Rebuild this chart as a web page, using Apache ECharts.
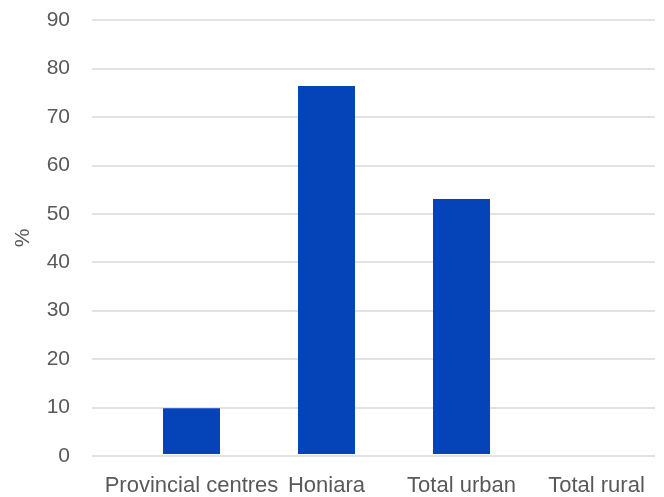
<!DOCTYPE html>
<html><head><meta charset="utf-8">
<script src="https://cdn.jsdelivr.net/npm/echarts@6/dist/echarts.min.js"></script>
<style>html,body{margin:0;padding:0;background:#fff}#c{width:664px;height:497px}</style>
</head><body><div id="c"></div>
<script>
const categories = ["Provincial centres", "Honiara", "Total urban", "Total rural"];
const values = [9.5, 76.3, 52.9, 0];
const yTicks = [0, 10, 20, 30, 40, 50, 60, 70, 80, 90];

const font = "Liberation Sans";
const chart = echarts.init(document.getElementById('c'));
chart.setOption({
  animation: false,
  grid: [
    {left: 92, right: 9, top: 20, bottom: 41},
    {left: 124, right: -2, top: 20, bottom: 41}
  ],
  xAxis: [
    {type: 'category', gridIndex: 0, data: categories, show: false},
    {type: 'category', gridIndex: 1, data: categories,
     axisLine: {show: false}, axisTick: {show: false},
     axisLabel: {color: '#595959', fontSize: 22, fontFamily: font, margin: 21, interval: 0}}
  ],
  yAxis: [
    {type: 'value', gridIndex: 0, min: yTicks[0], max: yTicks[yTicks.length-1], interval: 10,
     name: '%', nameLocation: 'middle', nameGap: 58, nameRotate: 90,
     nameTextStyle: {color: '#595959', fontSize: 21, fontFamily: font},
     axisLine: {show: false}, axisTick: {show: false},
     axisLabel: {color: '#595959', fontSize: 21, fontFamily: font, margin: 22},
     splitLine: {lineStyle: {color: '#D9D9D9', width: 1.5}}},
    {type: 'value', gridIndex: 1, min: yTicks[0], max: yTicks[yTicks.length-1], interval: 10, show: false}
  ],
  series: [{
    type: 'bar', xAxisIndex: 1, yAxisIndex: 1, data: values,
    barWidth: 57, itemStyle: {color: '#0444B8'}
  }]
});
</script></body></html>
